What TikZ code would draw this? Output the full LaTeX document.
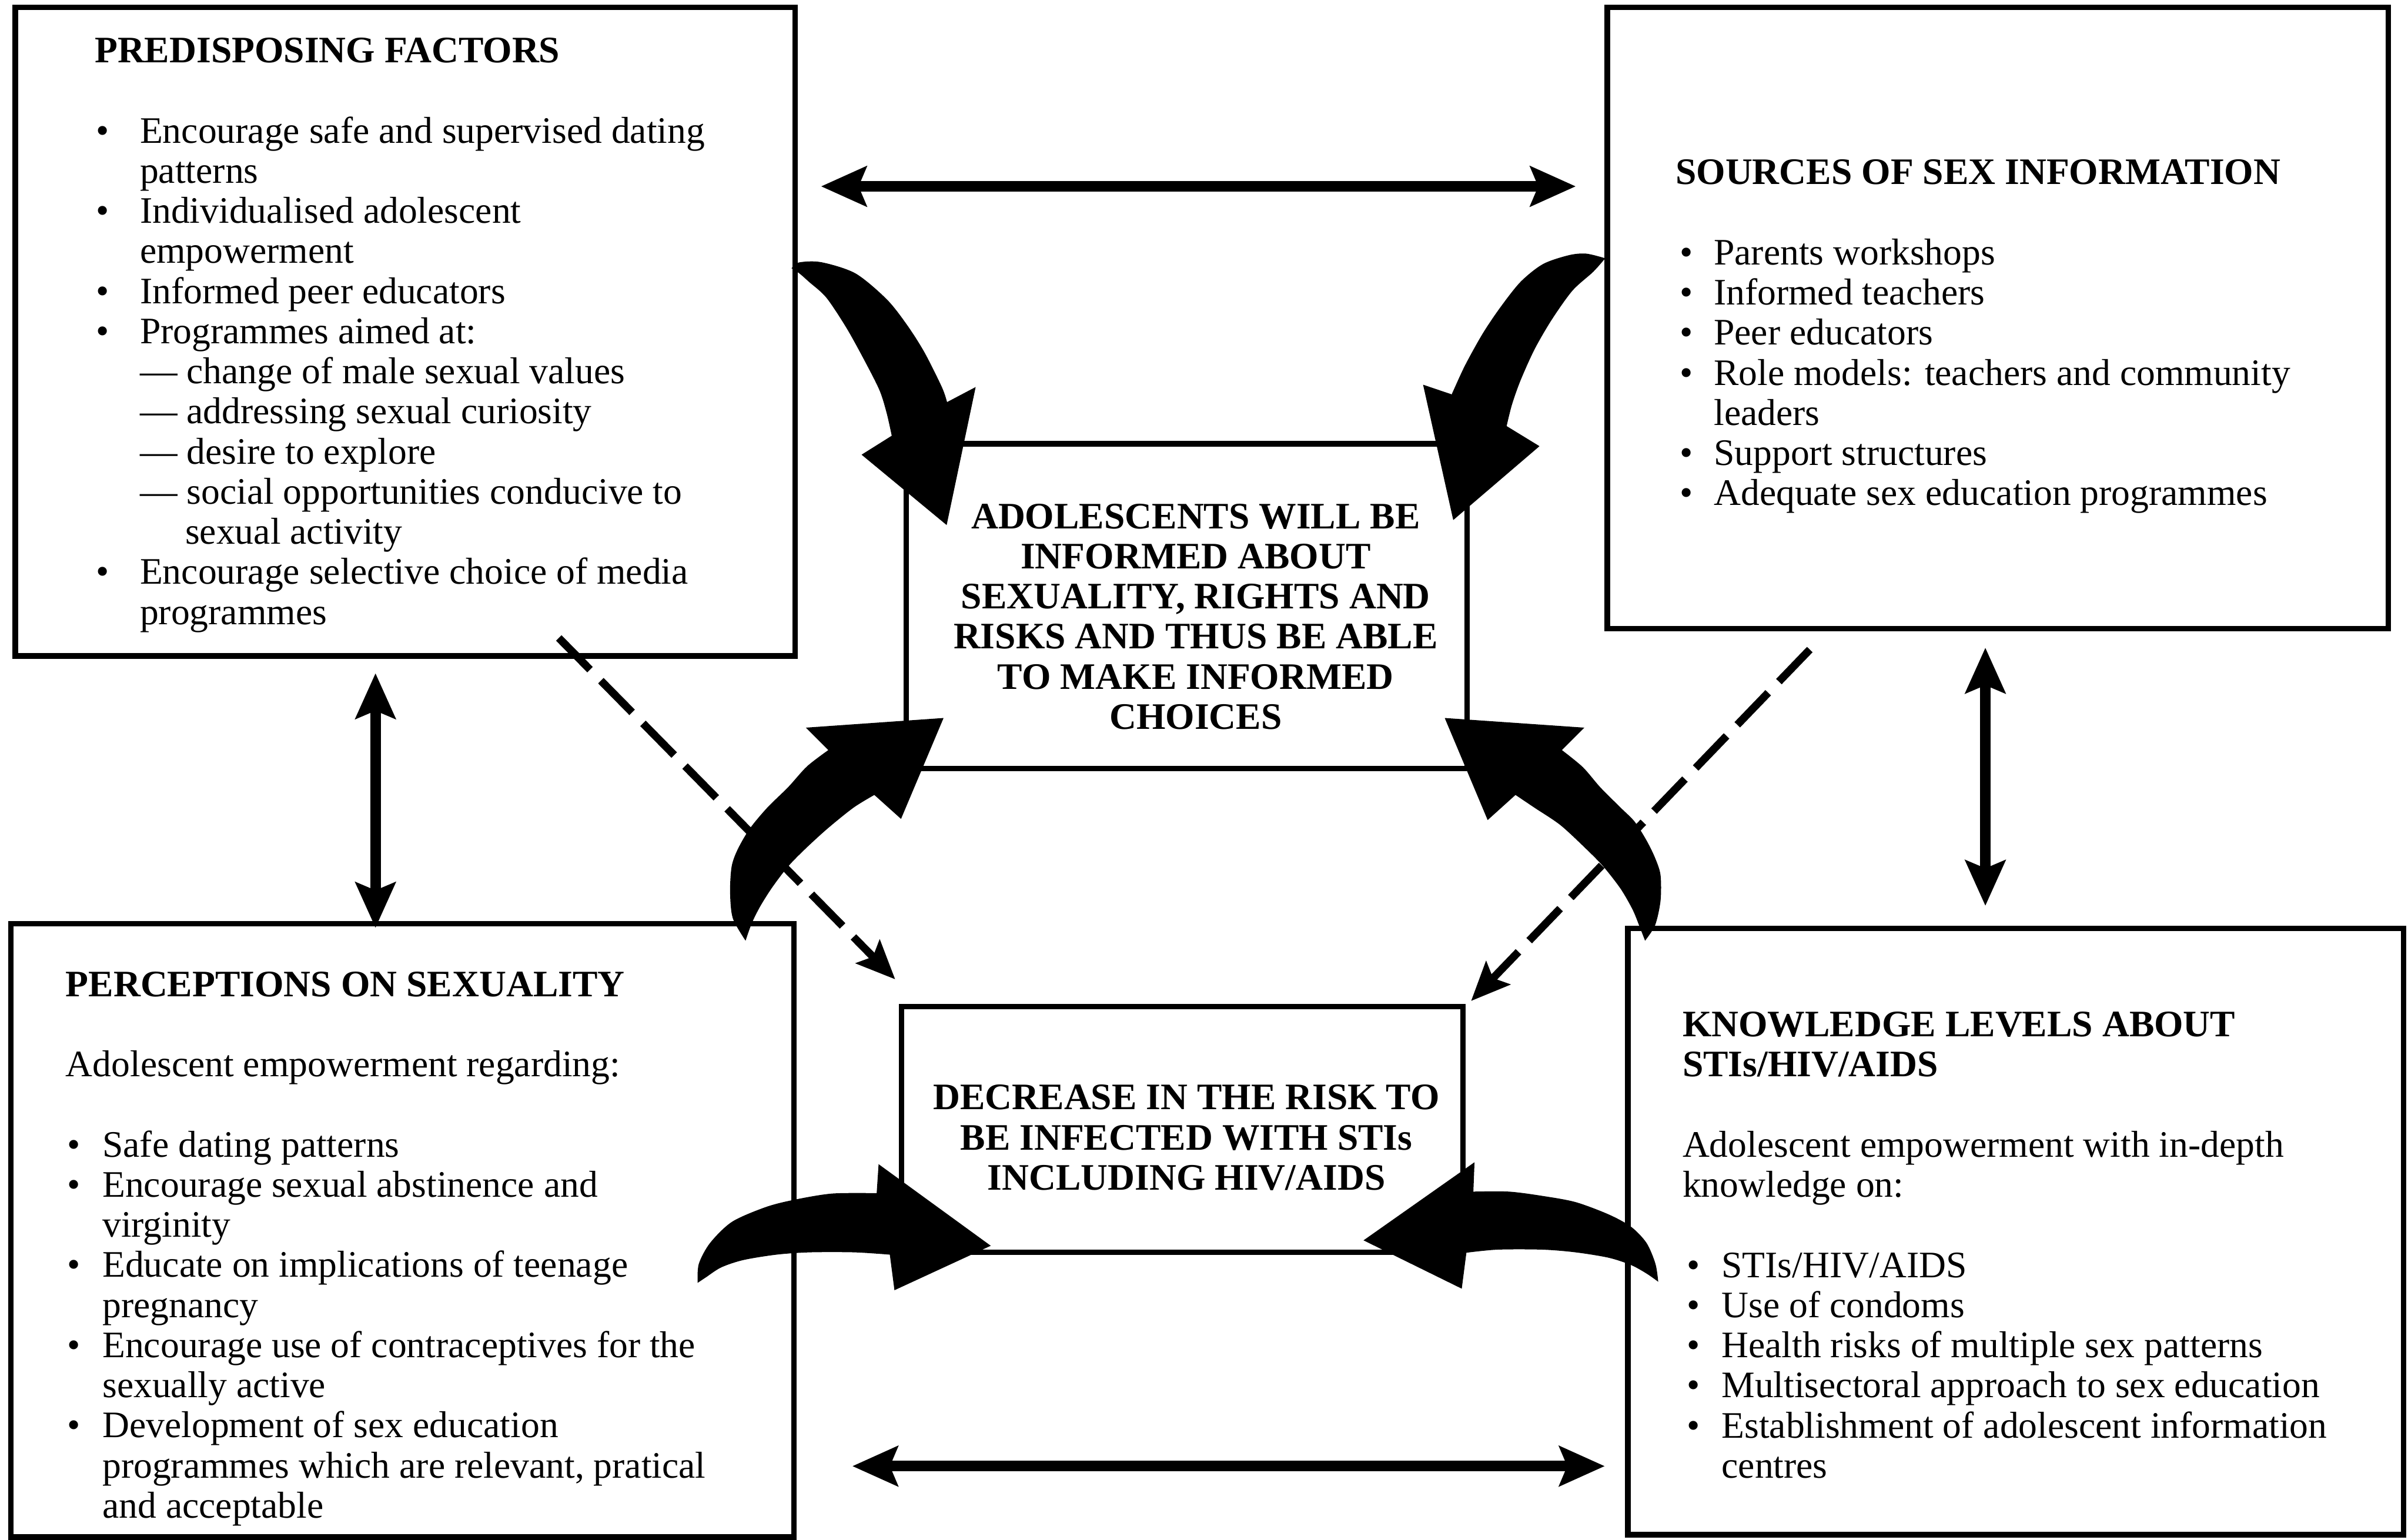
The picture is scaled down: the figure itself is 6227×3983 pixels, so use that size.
\documentclass[tikz,border=0pt]{standalone}
\usepackage{fontspec}
\setmainfont{Liberation Serif}
\usetikzlibrary{arrows.meta}
\newcommand\bul[2][0pt]{\makebox[#2][l]{\hspace*{#1}\textbullet}}
\newcommand\ind[1]{\hspace*{#1}}
\newcommand\blk[2]{\vtop{\hsize=#1\fontsize{27.5pt}{1.037cm}\selectfont\parindent=0pt\parskip=0pt\lineskiplimit=-100pt\relax #2}}
\newcommand\cblk[2]{\vtop{\hsize=#1\fontsize{27.5pt}{1.037cm}\selectfont\bfseries\centering\parindent=0pt\parskip=0pt\lineskiplimit=-100pt\relax #2}}
\tikzset{
  box/.style={draw, line width=0.14cm, inner sep=0pt, rectangle},
  txt/.style={inner sep=0pt, outer sep=0pt},
  dbl/.style={line width=0.27cm, {Stealth[length=1.17cm,width=1.02cm,inset=0.2cm]}-{Stealth[length=1.17cm,width=1.02cm,inset=0.2cm]}},
  dsh/.style={line width=0.2cm, dash pattern=on 1.15cm off 0.4cm, -{Stealth[length=1.0cm,width=0.85cm,inset=0.18cm]}},
  bigarrow/.style={fill=black}
}
\begin{document}
\begin{tikzpicture}[x=0.01cm,y=-0.01cm]
\useasboundingbox (0,0) rectangle (6227,3983);
% boxes
\node[box, minimum width=20.16cm, minimum height=16.76cm] (pf) at (1048,858) {};
\node[box, minimum width=20.18cm, minimum height=16.06cm] (ssi) at (5166,823) {};
\node[box, minimum width=14.49cm, minimum height=8.40cm] (adol) at (3068.5,1568) {};
\node[box, minimum width=14.51cm, minimum height=6.36cm] (dec) at (3057.5,2921) {};
\node[box, minimum width=20.24cm, minimum height=15.85cm] (ps) at (1041,3182.5) {};
\node[box, minimum width=20.05cm, minimum height=15.67cm] (kl) at (5212.5,3185.5) {};
% texts
\node[txt, anchor=base west] (pft) at (245,162) {\blk{18cm}{%
\textbf{PREDISPOSING FACTORS}\par\mbox{}\par
\bul[0.03cm]{1.17cm}Encourage safe and supervised dating\par
\ind{1.17cm}patterns\par
\bul[0.03cm]{1.17cm}Individualised adolescent\par
\ind{1.17cm}empowerment\par
\bul[0.03cm]{1.17cm}Informed peer educators\par
\bul[0.03cm]{1.17cm}Programmes aimed at:\par
\ind{1.17cm}— change of male sexual values\par
\ind{1.17cm}— addressing sexual curiosity\par
\ind{1.17cm}— desire to explore\par
\ind{1.17cm}— social opportunities conducive to\par
\ind{2.34cm}sexual activity\par
\bul[0.03cm]{1.17cm}Encourage selective choice of media\par
\ind{1.17cm}programmes}};
\node[txt, anchor=base west] (ssit) at (4333,477) {\blk{18cm}{%
\textbf{SOURCES OF SEX INFORMATION}\par\mbox{}\par
\bul[0.11cm]{0.99cm}Parents workshops\par
\bul[0.11cm]{0.99cm}Informed teachers\par
\bul[0.11cm]{0.99cm}Peer educators\par
\bul[0.11cm]{0.99cm}Role models: teachers and community\par
\ind{0.99cm}leaders\par
\bul[0.11cm]{0.99cm}Support structures\par
\bul[0.11cm]{0.99cm}Adequate sex education programmes}};
\node[txt, anchor=base west] (pst) at (170,2577) {\blk{18cm}{%
\textbf{PERCEPTIONS ON SEXUALITY}\par\mbox{}\par
Adolescent empowerment regarding:\par\mbox{}\par
\bul[0.04cm]{0.95cm}Safe dating patterns\par
\bul[0.04cm]{0.95cm}Encourage sexual abstinence and\par
\ind{0.95cm}virginity\par
\bul[0.04cm]{0.95cm}Educate on implications of teenage\par
\ind{0.95cm}pregnancy\par
\bul[0.04cm]{0.95cm}Encourage use of contraceptives for the\par
\ind{0.95cm}sexually active\par
\bul[0.04cm]{0.95cm}Development of sex education\par
\ind{0.95cm}programmes which are relevant, pratical\par
\ind{0.95cm}and acceptable}};
\node[txt, anchor=base west] (klt) at (4351,2681) {\blk{18cm}{%
\textbf{KNOWLEDGE LEVELS ABOUT}\par
\textbf{STIs/HIV/AIDS}\par\mbox{}\par
Adolescent empowerment with in-depth\par
knowledge on:\par\mbox{}\par
\bul[0.11cm]{1.01cm}STIs/HIV/AIDS\par
\bul[0.11cm]{1.01cm}Use of condoms\par
\bul[0.11cm]{1.01cm}Health risks of multiple sex patterns\par
\bul[0.11cm]{1.01cm}Multisectoral approach to sex education\par
\bul[0.11cm]{1.01cm}Establishment of adolescent information\par
\ind{1.01cm}centres}};
\node[txt, anchor=base] (adolt) at (3092,1367) {\cblk{14cm}{%
ADOLESCENTS WILL BE\par
INFORMED ABOUT\par
SEXUALITY, RIGHTS AND\par
RISKS AND THUS BE ABLE\par
TO MAKE INFORMED\par
CHOICES}};
\node[txt, anchor=base] (dect) at (3068,2870) {\cblk{14cm}{%
DECREASE IN THE RISK TO\par
BE INFECTED WITH STIs\par
INCLUDING HIV/AIDS}};
% straight connectors
\coordinate (t1) at (2123,482); \coordinate (t2) at (4075,482);
\coordinate (b1) at (2204,3792); \coordinate (b2) at (4150,3792);
\coordinate (l1) at (971,1741); \coordinate (l2) at (971,2400);
\coordinate (r1) at (5134,1675); \coordinate (r2) at (5134,2343);
\draw[dbl] (t1) -- (t2);
\draw[dbl] (b1) -- (b2);
\draw[dbl] (l1) -- (l2);
\draw[dbl] (r1) -- (r2);
\coordinate (d1s) at (1445,1650); \coordinate (d1e) at (2315,2533);
\coordinate (d2s) at (4680,1680); \coordinate (d2e) at (3804,2589);
\draw[dsh] (d1s) -- (d1e);
\draw[dsh] (d2s) -- (d2e);
% curved block arrows
\fill[bigarrow] plot[smooth] coordinates {(2047,694) (2065,679) (2123,678) (2212,707) (2293,774) (2346,841) (2391,912) (2436,1002) (2449,1040)} -- (2523,1001) -- (2448,1358) -- (2228,1176) -- plot[smooth] coordinates {(2306,1127) (2293,1069) (2275,1011) (2239,939) (2190,850) (2137,770) (2092,729) (2067,707) (2047,694)} -- cycle;
\fill[bigarrow] plot[smooth] coordinates {(4151,668) (4102,656) (4057,660) (3990,683) (3932,729) (3879,796) (3834,863) (3789,944) (3758,1011) (3754,1020)} -- (3680,995) -- (3758,1345) -- (3981,1154) -- plot[smooth] coordinates {(3896,1102) (3910,1046) (3932,984) (3968,904) (4012,828) (4066,752) (4120,703) (4151,668)} -- cycle;
\fill[bigarrow] plot[smooth] coordinates {(1928,2433) (1895,2375) (1888,2308) (1892,2241) (1908,2196) (1939,2143) (1984,2089) (2038,2036) (2087,1982) (2142,1940)} -- (2084,1882) -- (2440,1857) -- (2330,2118) -- plot[smooth] coordinates {(2261,2056) (2207,2089) (2140,2143) (2082,2196) (2038,2241) (1997,2295) (1966,2344) (1944,2388) (1928,2433)} -- cycle;
\fill[bigarrow] plot[smooth] coordinates {(4254,2433) (4280,2393) (4294,2330) (4294,2263) (4280,2219) (4258,2174) (4227,2125) (4191,2089) (4138,2036) (4093,1984) (4039,1940)} -- (4097,1882) -- (3736,1857) -- (3847,2121) -- plot[smooth] coordinates {(3919,2056) (3968,2089) (4035,2134) (4102,2196) (4146,2241) (4191,2299) (4222,2353) (4240,2397) (4254,2433)} -- cycle;
\fill[bigarrow] plot[smooth] coordinates {(1804,3318) (1807,3269) (1836,3215) (1893,3160) (1980,3122) (2054,3103) (2152,3087) (2267,3086)} -- (2272,3011) -- (2562,3222) -- (2313,3337) -- plot[smooth] coordinates {(2301,3245) (2209,3239) (2094,3239) (2008,3245) (1922,3259) (1865,3278) (1825,3304) (1804,3318)} -- cycle;
\fill[bigarrow] plot[smooth] coordinates {(4288,3315) (4281,3269) (4258,3215) (4218,3173) (4160,3141) (4074,3109) (3988,3093) (3902,3082) (3810,3082)} -- (3813,3006) -- (3526,3208) -- (3780,3333) -- plot[smooth] coordinates {(3792,3240) (3873,3232) (3988,3232) (4074,3239) (4160,3253) (4218,3272) (4258,3294) (4288,3315)} -- cycle;
\end{tikzpicture}
\end{document}
